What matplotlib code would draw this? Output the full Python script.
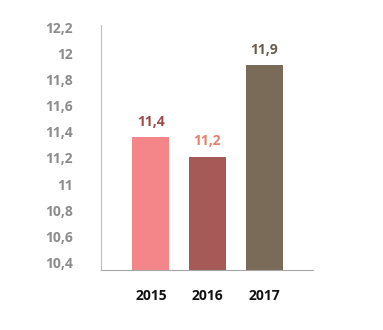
import numpy as np
import matplotlib.pyplot as plt

years = ['2015', '2016', '2017']
values = [11.36, 11.21, 11.91]
bar_colors = ['#F4868A', '#A65A57', '#7A6A58']
label_colors = ['#9C4B4B', '#E8806A', '#6B5D4E']
yticks = [10.4, 10.6, 10.8, 11.0, 11.2, 11.4, 11.6, 11.8, 12.0, 12.2]

def fmt(v):
    s = ('%.1f' % v).replace('.', ',')
    if s.endswith(',0'):
        s = s[:-2]
    return s

plt.rcParams['font.family'] = ['Open Sans', 'DejaVu Sans']

fig = plt.figure(figsize=(3.83, 3.30), dpi=100)
ax = fig.add_axes([0.2637, 0.1818, 0.817 - 0.2637, 0.924 - 0.1818])

x = np.arange(len(years))
bars = ax.bar(x, values, width=0.65, color=bar_colors, bottom=0)

for i, v in enumerate(values):
    ax.annotate(fmt(v), (x[i], v), xytext=(0, 6), textcoords='offset points',
                ha='center', va='bottom', fontsize=10, fontweight='bold',
                color=label_colors[i])

ax.set_ylim(10.34, 12.22)
ax.set_xlim(-0.88, 2.86)
ax.set_yticks(yticks)
ax.set_yticklabels([fmt(t) for t in yticks], fontsize=10, fontweight='bold', color='#8C8C8C')
ax.set_xticks(x)
ax.set_xticklabels(years, fontsize=10, fontweight='bold', color='#111111')
ax.tick_params(axis='y', length=0, pad=20)
ax.tick_params(axis='x', length=0, pad=14)

for s in ['top', 'right']:
    ax.spines[s].set_visible(False)
ax.spines['left'].set_color('#BFBFBF')
ax.spines['bottom'].set_color('#A6A6A6')

fig.savefig('out.png', dpi=100)
